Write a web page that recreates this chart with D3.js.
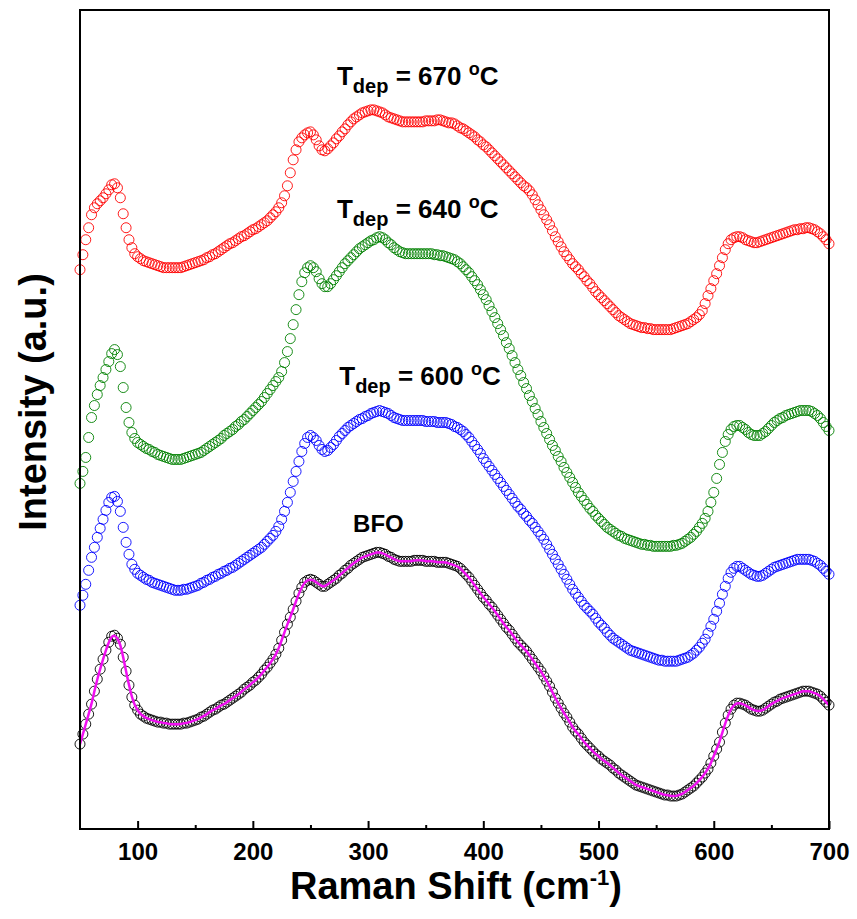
<!DOCTYPE html>
<html>
<head>
<meta charset="utf-8">
<script src="https://cdn.jsdelivr.net/npm/d3@7"></script>
<style>
  body { margin: 0; background: #fff; }
  svg text { font-family: "Liberation Sans", Arial, sans-serif; font-weight: bold; fill: #000; }
</style>
</head>
<body>
<svg id="chart" width="857" height="919"></svg>
<script>
// Raman shift grid (cm-1), one row = 50 cm-1
const shift = [
  50,52.5,55,57.5,60,62.5,65,67.5,70,72.5,75,77.5,80,82.5,85,87.5,90,92.5,95,97.5,
  100,102.5,105,107.5,110,112.5,115,117.5,120,122.5,125,127.5,130,132.5,135,137.5,140,142.5,145,147.5,
  150,152.5,155,157.5,160,162.5,165,167.5,170,172.5,175,177.5,180,182.5,185,187.5,190,192.5,195,197.5,
  200,202.5,205,207.5,210,212.5,215,217.5,220,222.5,225,227.5,230,232.5,235,237.5,240,242.5,245,247.5,
  250,252.5,255,257.5,260,262.5,265,267.5,270,272.5,275,277.5,280,282.5,285,287.5,290,292.5,295,297.5,
  300,302.5,305,307.5,310,312.5,315,317.5,320,322.5,325,327.5,330,332.5,335,337.5,340,342.5,345,347.5,
  350,352.5,355,357.5,360,362.5,365,367.5,370,372.5,375,377.5,380,382.5,385,387.5,390,392.5,395,397.5,
  400,402.5,405,407.5,410,412.5,415,417.5,420,422.5,425,427.5,430,432.5,435,437.5,440,442.5,445,447.5,
  450,452.5,455,457.5,460,462.5,465,467.5,470,472.5,475,477.5,480,482.5,485,487.5,490,492.5,495,497.5,
  500,502.5,505,507.5,510,512.5,515,517.5,520,522.5,525,527.5,530,532.5,535,537.5,540,542.5,545,547.5,
  550,552.5,555,557.5,560,562.5,565,567.5,570,572.5,575,577.5,580,582.5,585,587.5,590,592.5,595,597.5,
  600,602.5,605,607.5,610,612.5,615,617.5,620,622.5,625,627.5,630,632.5,635,637.5,640,642.5,645,647.5,
  650,652.5,655,657.5,660,662.5,665,667.5,670,672.5,675,677.5,680,682.5,685,687.5,690,692.5,695,697.5,
  700];

// intensities (a.u., curves stacked)
const bfo = [
  85,95,105,115,125,138,150,160,170,179,187,193,194,191,185,172,158,144,132,124,
  119,115,113,111,110,109,108,107,107,106,106,105,105,105,105,105,106,106,107,108,
  109,110,112,113,115,117,119,120,122,124,125,127,129,131,133,135,137,140,142,144,
  147,149,152,155,159,162,166,170,175,181,189,197,205,212,220,228,236,242,247,249,
  250,249,247,245,243,243,245,247,249,251,254,256,259,261,264,266,268,270,272,273,
  274,275,276,277,277,276,275,273,272,270,269,268,268,268,268,268,269,269,269,269,
  268,268,268,268,267,267,267,267,266,265,264,263,261,258,255,252,248,244,240,236,
  232,229,225,222,218,214,210,206,202,199,195,191,187,184,181,178,174,170,166,162,
  158,153,148,143,137,131,126,121,116,112,107,102,98,95,91,87,84,81,78,75,
  73,70,68,66,64,61,59,56,54,52,50,48,46,44,43,42,41,40,39,38,
  37,36,35,34,34,33,33,33,34,35,37,39,41,43,46,49,52,56,60,66,
  73,80,87,97,106,114,120,124,126,126,125,124,122,120,119,118,118,119,121,123,
  125,127,128,130,131,132,133,134,135,136,137,138,138,138,137,136,135,133,130,127,
  124];

const dep600 = [
  224,234,245,259,272,282,292,301,310,319,327,332,333,328,318,302,287,275,265,260,
  256,254,252,250,249,247,246,245,244,243,242,241,240,239,239,239,240,240,241,242,
  243,244,246,247,249,250,252,253,255,256,258,259,261,262,264,266,268,270,272,274,
  276,278,280,282,285,288,291,294,298,303,310,318,327,337,348,358,368,378,386,392,
  394,392,389,384,380,378,379,382,385,389,393,396,399,402,404,406,408,410,411,413,
  414,416,417,418,419,418,417,416,414,412,411,410,409,409,409,409,409,409,409,409,
  408,408,408,408,407,407,407,407,406,405,403,402,400,398,395,392,388,384,380,376,
  371,367,363,359,355,351,347,343,339,335,331,327,323,320,316,313,309,306,302,298,
  294,290,285,280,275,270,265,260,255,250,245,240,236,232,228,224,221,218,215,211,
  207,204,201,197,194,191,189,187,185,183,181,179,178,177,176,175,174,173,172,171,
  170,169,169,168,168,168,168,168,169,170,171,172,174,176,179,182,186,190,196,203,
  210,218,226,235,243,251,257,261,263,263,261,259,257,255,254,253,253,254,256,258,
  260,262,263,264,265,266,267,268,269,270,270,270,270,270,269,268,266,264,261,258,
  255];

const dep640 = [
  346,358,372,392,412,424,435,444,452,460,468,476,480,475,463,442,422,407,397,391,
  387,385,383,381,380,378,377,375,374,373,372,371,370,370,370,370,371,372,373,374,
  375,376,377,379,381,383,385,387,389,391,394,396,398,400,403,405,408,410,413,416,
  419,422,425,428,432,436,440,444,448,452,458,467,478,491,505,520,535,548,557,562,
  564,562,558,551,546,543,543,546,550,554,558,562,566,569,572,575,578,581,583,585,
  587,589,590,592,593,592,590,587,585,582,580,578,577,576,576,576,576,576,576,576,
  576,576,576,575,575,574,574,573,572,571,570,568,566,563,560,557,553,549,545,540,
  535,530,524,518,512,506,500,494,487,481,474,467,460,454,447,441,434,428,421,415,
  408,402,396,390,384,379,373,368,362,357,352,347,342,337,333,329,325,321,318,314,
  311,308,305,302,300,298,296,294,293,291,290,289,288,287,286,285,285,284,284,283,
  283,283,283,283,283,283,284,284,285,286,288,290,292,295,298,302,306,311,318,327,
  337,351,365,377,388,395,400,403,404,404,402,400,397,395,394,394,394,396,398,401,
  404,407,409,411,412,414,415,416,417,418,419,419,419,419,418,416,414,411,407,403,
  399];

const dep670 = [
  560,575,590,602,615,622,626,629,632,636,640,645,646,642,632,616,602,590,582,576,
  573,571,569,568,567,566,565,564,563,562,562,562,562,562,562,562,563,564,565,566,
  567,568,569,570,572,573,575,576,578,580,582,584,586,587,589,591,593,594,596,598,
  600,601,603,605,607,609,612,615,618,622,627,634,644,657,670,680,688,692,695,697,
  698,695,690,684,680,679,681,684,687,691,694,698,701,705,708,711,713,715,717,718,
  719,720,720,719,718,717,715,713,712,711,710,709,708,708,708,708,708,708,708,708,
  709,709,709,709,710,710,709,708,707,707,706,704,702,701,699,697,695,693,690,688,
  685,683,680,677,674,671,668,665,662,659,656,653,650,647,644,642,639,635,630,625,
  620,615,610,605,599,593,588,583,578,574,570,566,563,560,556,553,549,546,542,538,
  535,532,529,526,523,520,517,514,512,510,508,506,505,504,503,502,502,501,501,500,
  500,500,500,500,500,500,501,502,503,504,505,506,508,510,512,515,519,526,534,541,
  549,556,564,572,580,586,590,592,593,593,592,590,589,588,587,587,588,589,590,591,
  592,593,594,595,596,597,598,599,600,600,601,601,602,602,601,600,598,596,593,590,
  586];

const xTicks = [100, 200, 300, 400, 500, 600, 700];
const xMinorTicks = [150, 250, 350, 450, 550, 650];

const series = [
  { name: "BFO", values: bfo, color: "#000000" },
  { name: "600", values: dep600, color: "#0000ff" },
  { name: "640", values: dep640, color: "#008000" },
  { name: "670", values: dep670, color: "#ff0000" }
];

const tempLabels = ["670", "640", "600"];

const svg = d3.select("#chart");
const margin = { top: 10, right: 28, bottom: 90, left: 80 };
const width = 857, height = 919;

const x = d3.scaleLinear().domain([50, 700]).range([margin.left, width - margin.right]);
const y = d3.scaleLinear().domain([0, 820]).range([height - margin.bottom, margin.top]);

// series: open circles, BFO also gets the magenta fit line
series.forEach(s => {
  const pts = shift.map((v, i) => [v, s.values[i]]);
  svg.append("g")
    .selectAll("circle")
    .data(pts)
    .enter()
    .append("circle")
    .attr("cx", d => x(d[0]))
    .attr("cy", d => y(d[1]))
    .attr("r", 5)
    .attr("fill", "none")
    .attr("stroke", s.color)
    .attr("stroke-width", 0.9);

  if (s.name === "BFO") {
    const line = d3.line().x(d => x(d[0])).y(d => y(d[1])).curve(d3.curveBasis);
    svg.append("path")
      .datum(pts)
      .attr("d", line)
      .attr("fill", "none")
      .attr("stroke", "#f010f0")
      .attr("stroke-width", 2.5);
  }
});

// axes
const xAxis = d3.axisBottom(x).tickValues(xTicks).tickSize(-8).tickPadding(14).tickFormat(d3.format("d"));
const gx = svg.append("g")
  .attr("transform", `translate(0,${height - margin.bottom})`)
  .call(xAxis);
gx.select(".domain").remove();
gx.selectAll(".tick line").attr("stroke", "#000").attr("stroke-width", 2);
gx.selectAll(".tick text").style("font-size", "24px");

const gxm = svg.append("g")
  .attr("transform", `translate(0,${height - margin.bottom})`)
  .call(d3.axisBottom(x).tickValues(xMinorTicks).tickSize(-4).tickFormat(""));
gxm.select(".domain").remove();
gxm.selectAll(".tick line").attr("stroke", "#000").attr("stroke-width", 2);

svg.append("rect")
  .attr("x", margin.left)
  .attr("y", margin.top)
  .attr("width", width - margin.left - margin.right)
  .attr("height", height - margin.top - margin.bottom)
  .attr("fill", "none")
  .attr("stroke", "#000")
  .attr("stroke-width", 2);

// axis titles
const xt = svg.append("text")
  .attr("x", 456)
  .attr("y", 899)
  .attr("text-anchor", "middle")
  .style("font-size", "38px");
xt.append("tspan").text("Raman Shift (cm");
xt.append("tspan").attr("dy", -14).style("font-size", "22px").text("-1");
xt.append("tspan").attr("dy", 14).text(")");

svg.append("text")
  .attr("transform", "translate(46,402) rotate(-90)")
  .attr("text-anchor", "middle")
  .style("font-size", "38px")
  .text("Intensity (a.u.)");

// curve labels
const labelPos = [[273, 745], [273, 612], [275, 445]];
tempLabels.forEach((t, i) => {
  const txt = svg.append("text")
    .attr("x", x(labelPos[i][0]))
    .attr("y", y(labelPos[i][1]))
    .style("font-size", "26px");
  txt.append("tspan").text("T");
  txt.append("tspan").attr("dy", 8).style("font-size", "20px").text("dep");
  txt.append("tspan").attr("dy", -8).text(" = " + t + " ");
  txt.append("tspan").attr("dy", -10).style("font-size", "18px").text("o");
  txt.append("tspan").attr("dy", 10).text("C");
});

svg.append("text")
  .attr("x", x(287))
  .attr("y", y(297))
  .style("font-size", "24px")
  .text("BFO");
</script>
</body>
</html>
